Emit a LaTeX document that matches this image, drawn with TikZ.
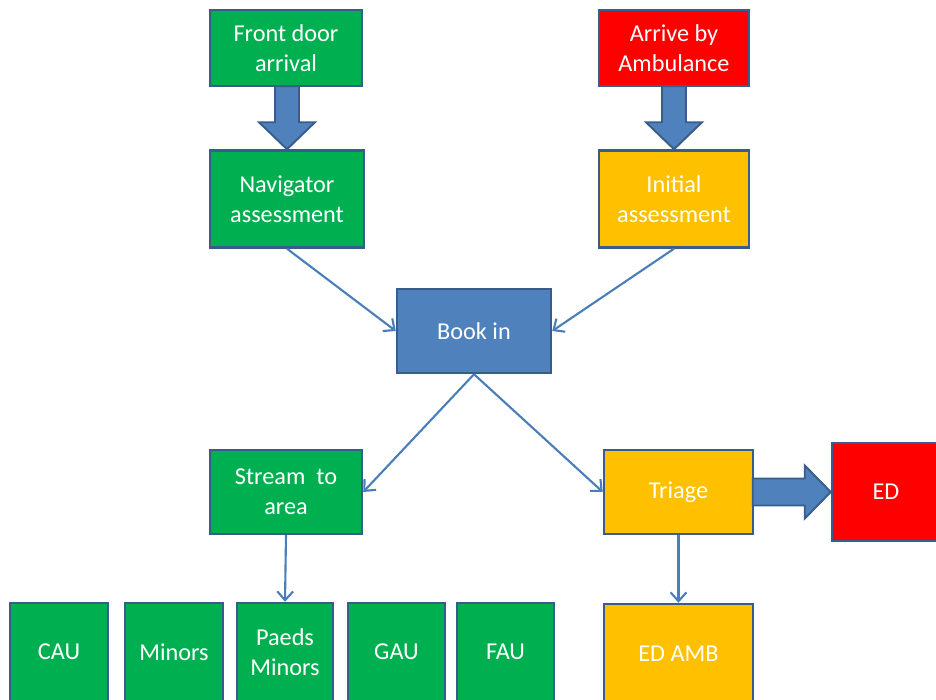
\documentclass[tikz,border=0pt]{standalone}
\usepackage{fontspec}
\setmainfont{Carlito}
\usetikzlibrary{arrows.meta,positioning,calc}
\definecolor{boxgreen}{HTML}{00B050}
\definecolor{boxred}{HTML}{FF0000}
\definecolor{boxamber}{HTML}{FFC000}
\definecolor{boxblue}{HTML}{4F81BD}
\definecolor{edgeblue}{HTML}{385D8A}
\definecolor{lineblue}{HTML}{4A7EBB}

\tikzset{
  stage/.style={draw=edgeblue,line width=1.4pt,text=white,align=center,
    inner sep=0pt,font=\fontsize{13.8}{17}\selectfont},
  green/.style={stage,fill=boxgreen},
  red/.style={stage,fill=boxred},
  amber/.style={stage,fill=boxamber},
  blue/.style={stage,fill=boxblue},
  flow/.style={draw=lineblue,line width=1.2pt,-{Straight Barb[length=5pt,width=9pt]}},
  bigarrow/.style={draw=edgeblue,fill=boxblue,line width=1.1pt,line join=miter}
}

\begin{document}
\begin{tikzpicture}
    \useasboundingbox (0,0) rectangle (18.72,14);
    \clip (0,0) rectangle (18.72,14);
    % top row
    \node [green,minimum width=3.04cm,minimum height=1.52cm] (front) at (5.72,13.04) {Front door\\arrival};
    \node [red,minimum width=3.0cm,minimum height=1.52cm] (amb) at (13.48,13.04) {Arrive by\\Ambulance};
    \node [green,minimum width=3.08cm,minimum height=1.94cm] (nav) at (5.74,10.02) {Navigator\\assessment};
    \node [amber,minimum width=3.0cm,minimum height=1.94cm] (init) at (13.48,10.02) {Initial\\assessment};
    \node [blue,minimum width=3.08cm,minimum height=1.68cm] (book) at (9.48,7.38) {Book in};
    \node [green,minimum width=3.04cm,minimum height=1.68cm] (stream) at (5.72,4.16) {Stream\ \ to\\area};
    \node [amber,minimum width=2.98cm,minimum height=1.68cm] (triage) at (13.57,4.16) {Triage};
    \node [red,minimum width=2.16cm,minimum height=1.96cm] (ed) at (17.72,4.16) {ED};
    % bottom row
    \node [green,minimum width=1.96cm,minimum height=1.96cm] (cau) at (1.18,0.96) {CAU};
    \node [green,minimum width=1.96cm,minimum height=1.96cm] (minors) at (3.48,0.96) {Minors};
    \node [green,minimum width=1.92cm,minimum height=1.96cm] (paeds) at (5.70,0.96) {Paeds\\Minors};
    \node [green,minimum width=1.94cm,minimum height=1.96cm] (gau) at (7.93,0.96) {GAU};
    \node [green,minimum width=1.94cm,minimum height=1.96cm] (fau) at (10.11,0.96) {FAU};
    \node [amber,minimum width=2.98cm,minimum height=2.0cm] (edamb) at (13.57,0.92) {ED AMB};
    % block arrows, drawn back from their tips
    \draw [bigarrow] (nav.north) -- ++(-0.56,0.54) -- ++(0.32,0) -- ++(0,0.72)
      -- ++(0.48,0) -- ++(0,-0.72) -- ++(0.32,0) -- cycle;
    \draw [bigarrow] (init.north) -- ++(-0.56,0.54) -- ++(0.32,0) -- ++(0,0.72)
      -- ++(0.48,0) -- ++(0,-0.72) -- ++(0.32,0) -- cycle;
    \draw [bigarrow] (ed.west) -- ++(-0.52,0.53) -- ++(0,-0.26) -- ++(-1.04,0)
      -- ++(0,-0.54) -- ++(1.04,0) -- ++(0,-0.26) -- cycle;
    % connectors
    \draw [flow] (nav.south) -- (book.west);
    \draw [flow] (init.south) -- (book.east);
    \draw [flow] (book.south) -- (stream.east);
    \draw [flow] (book.south) -- (triage.west);
    \draw [flow] (stream.south) -- (paeds.north);
    \draw [flow] (triage.south) -- (edamb.north);
\end{tikzpicture}
\end{document}
